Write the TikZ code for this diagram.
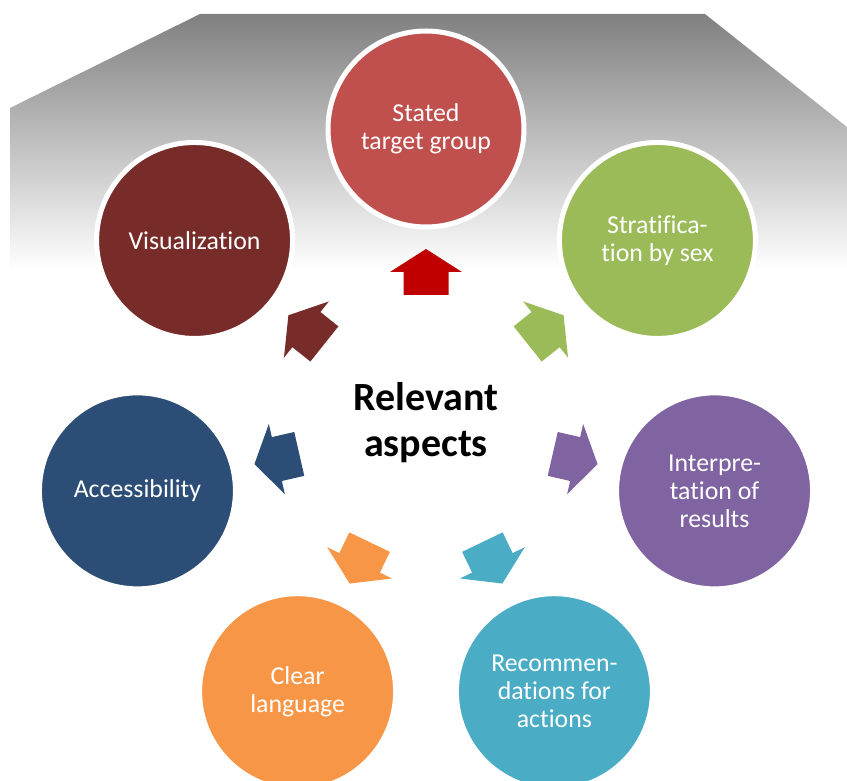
\documentclass[tikz,border=0pt]{standalone}
\usepackage{fontspec}
\setmainfont[Ligatures={NoCommon}]{Carlito}
\usetikzlibrary{calc}
\definecolor{cRed}{HTML}{C0504D}
\definecolor{aRed}{HTML}{C00000}
\definecolor{cVis}{HTML}{772C2A}
\definecolor{cGreen}{HTML}{9BBB59}
\definecolor{cPurple}{HTML}{8064A2}
\definecolor{cTeal}{HTML}{4BACC6}
\definecolor{cOrange}{HTML}{F79646}
\definecolor{cNavy}{HTML}{2C4D75}
\definecolor{bgTop}{HTML}{808080}
\tikzset{
  aspect/.style={circle, minimum size=196pt, inner sep=0pt, draw=white, line width=5pt,
    text=white, align=center, font=\fontsize{25.8}{28}\selectfont},
  radarrow/.pic={\path[pic actions] (-23,-22.5) -- (0,-22.5) -- (0,-36) -- (23,0) -- (0,36) -- (0,22.5) -- (-23,22.5) -- cycle;}
}
\begin{document}
\begin{tikzpicture}[x=1pt,y=1pt]
\useasboundingbox (0,0) rectangle (847,780);
\clip (0,0) rectangle (847,780);
% background gradient band
\shade[top color=bgTop, bottom color=white]
  (200,766) -- (705,766) -- (847,653) -- (847,510) -- (10,510) -- (10,672) -- cycle;
\coordinate (ctr) at (426,355);
% circles
\node[aspect, fill=cRed]    (target)  at ($(ctr)+(90:296)$)      {Stated\\target group};
\node[aspect, fill=cGreen]  (strat)   at ($(ctr)+(38.57:296)$)   {Stratifica-\\tion by sex};
\node[aspect, fill=cPurple] (interp)  at ($(ctr)+(-12.86:296)$)  {Interpre-\\tation of\\results};
\node[aspect, fill=cTeal]   (recom)   at ($(ctr)+(-64.29:296)$)  {Recommen-\\dations for\\actions};
\node[aspect, fill=cOrange] (clear)   at ($(ctr)+(-115.71:296)$) {Clear\\language};
\node[aspect, fill=cNavy]   (access)  at ($(ctr)+(-167.14:296)$) {Accessibility};
\node[aspect, fill=cVis]    (visual)  at ($(ctr)+(141.43:296)$)  {Visualization};
% arrows
\pic[fill=aRed,    rotate=90]      at ($(ctr)+(90:153)$)      {radarrow};
\pic[fill=cGreen,  rotate=38.57]   at ($(ctr)+(38.57:153)$)   {radarrow};
\pic[fill=cPurple, rotate=-12.86]  at ($(ctr)+(-12.86:153)$)  {radarrow};
\pic[fill=cTeal,   rotate=-64.29]  at ($(ctr)+(-64.29:153)$)  {radarrow};
\pic[fill=cOrange, rotate=-115.71] at ($(ctr)+(-115.71:153)$) {radarrow};
\pic[fill=cNavy,   rotate=-167.14] at ($(ctr)+(-167.14:153)$) {radarrow};
\pic[fill=cVis,    rotate=141.43]  at ($(ctr)+(141.43:153)$)  {radarrow};
% title
\node[align=center, font=\fontsize{40}{46}\selectfont\bfseries] (title) at (426,357) {Relevant\\aspects};
\end{tikzpicture}
\end{document}
